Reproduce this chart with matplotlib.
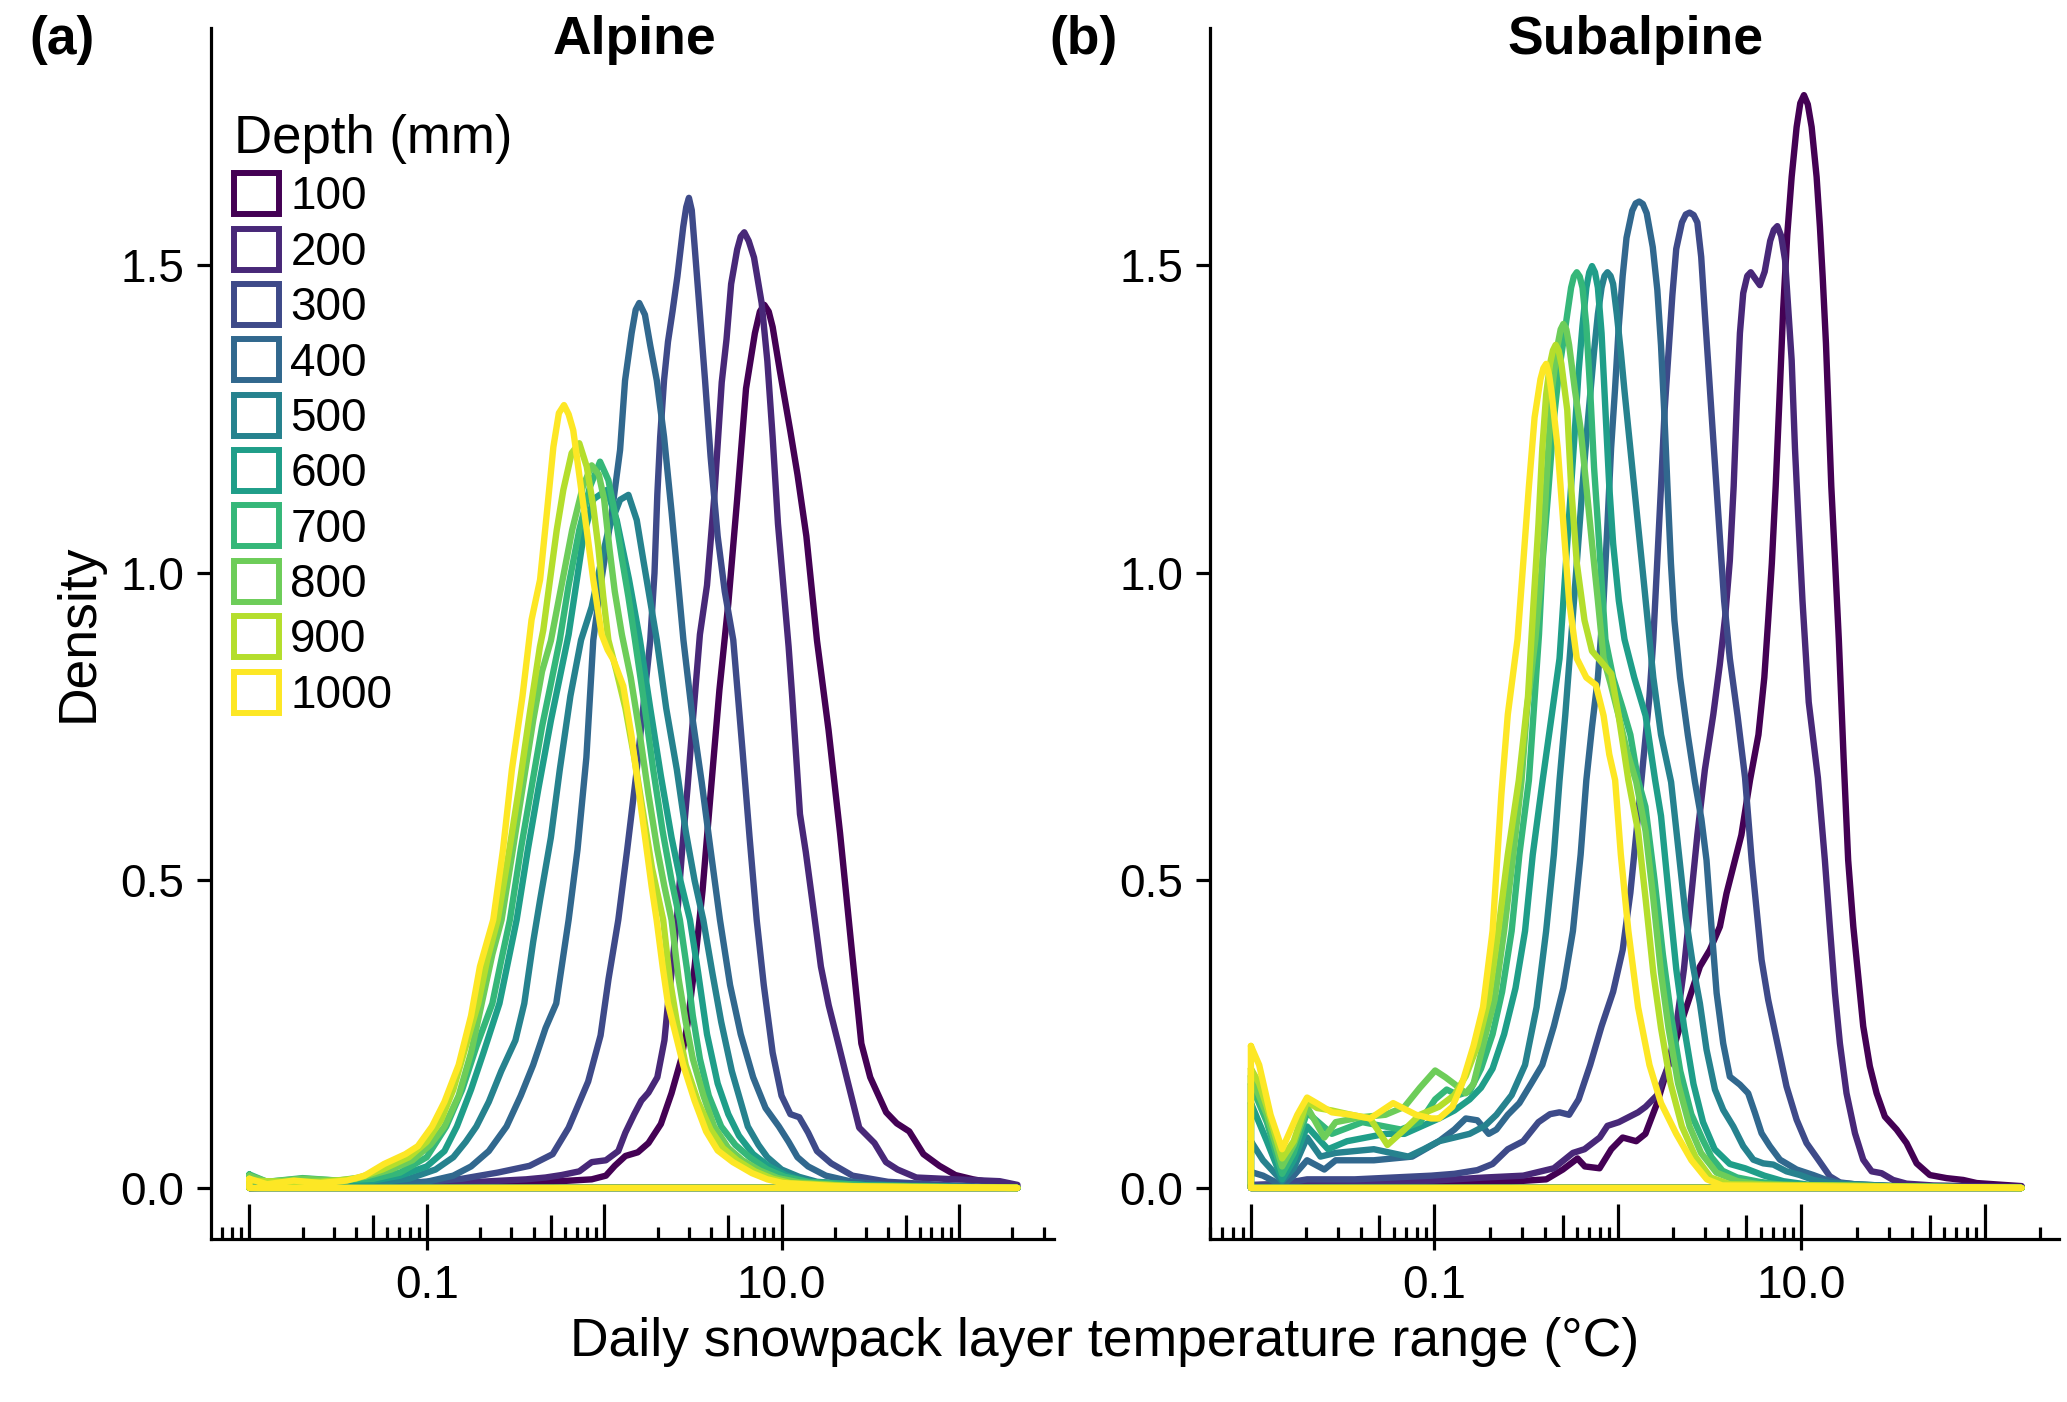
import numpy as np
import matplotlib
matplotlib.use("Agg")
import matplotlib.pyplot as plt
from matplotlib.patches import Patch
from matplotlib.transforms import blended_transform_factory

plt.rcParams['font.family'] = ['Liberation Sans', 'DejaVu Sans']

# depth classes and viridis colours (one per depth)
depths = [100, 200, 300, 400, 500, 600, 700, 800, 900, 1000]
colors = ['#440154', '#482878', '#3E4A89', '#31688E', '#26828E',
          '#1F9E89', '#35B779', '#6DCD59', '#B4DE2C', '#FDE725']

# density curves: (log10 of temperature range, density)
alpine = {
    100: [(-2.0, 0), (-1.0, .003), (-0.6, .005), (-0.25, .011), (-0.07, .014), (0.01, .02), (0.06, .036),
          (0.12, .052), (0.19, .058), (0.25, .073), (0.32, .104), (0.38, .154), (0.435, .21), (0.47, .266),
          (0.51, .36), (0.555, .484), (0.6, .64), (0.65, .81), (0.7, .95), (0.75, 1.12), (0.8, 1.3),
          (0.85, 1.39), (0.878, 1.425), (0.903, 1.436), (0.928, 1.425), (0.95, 1.4), (0.99, 1.33), (1.05, 1.23),
          (1.09, 1.16), (1.14, 1.06),
          (1.2, .89), (1.265, .745), (1.33, .577), (1.395, .39), (1.45, .235), (1.5, .18), (1.59, .123),
          (1.65, .105), (1.72, .092), (1.8, .055), (1.89, .036), (1.98, .021), (2.08, .014), (2.2, .008),
          (2.25, .007), (2.33, 0)],
    200: [(-2.0, 0), (-1.5, .003), (-1.0, .006), (-0.7, .01), (-0.44, .014), (-0.33, .017), (-0.24, .021),
          (-0.14, .027), (-0.07, .042), (0.01, .045), (0.08, .06), (0.12, .09), (0.17, .12), (0.21, .142),
          (0.25, .155), (0.3, .18), (0.34, .24), (0.36, .3), (0.38, .35), (0.41, .436), (0.44, .55),
          (0.47, .65), (0.5, .76), (0.54, .9), (0.58, .98), (0.62, 1.12), (0.663, 1.31), (0.69, 1.38),
          (0.716, 1.47), (0.75, 1.526), (0.77, 1.547), (0.79, 1.554), (0.815, 1.54), (0.845, 1.513),
          (0.888, 1.439), (0.92, 1.345),
          (0.95, 1.221), (0.98, 1.08), (1.04, .88), (1.06, .8), (1.083, .7), (1.104, .608), (1.137, .546),
          (1.18, .453), (1.222, .36), (1.266, .297), (1.32, .235), (1.373, .173), (1.438, .098), (1.524, .073),
          (1.589, .042), (1.654, .03), (1.76, .017), (1.98, .014), (2.23, .011), (2.33, .005)],
    300: [(-2.0, 0), (-1.5, .004), (-1.0, .01), (-0.8, .015), (-0.6, .025), (-0.42, .036), (-0.29, .055),
          (-0.2, .098), (-0.09, .173), (-0.02, .248), (0.025, .34), (0.08, .436), (0.13, .55), (0.18, .67),
          (0.22, .78), (0.26, .89), (0.284, 1.0), (0.3, 1.128), (0.316, 1.221), (0.338, 1.314), (0.36, 1.376),
          (0.386, 1.426), (0.413, 1.482), (0.446, 1.563), (0.463, 1.595), (0.478, 1.61), (0.494, 1.59),
          (0.51, 1.532), (0.535, 1.44),
          (0.569, 1.313), (0.6, 1.19), (0.64, 1.06), (0.68, .97), (0.728, .891), (0.78, .712), (0.82, .57),
          (0.86, .436), (0.9, .33), (0.95, .22), (1.0, .15), (1.05, .12), (1.1, .115), (1.15, .09), (1.2, .06),
          (1.28, .04), (1.4, .02), (1.6, .01), (1.9, .005), (2.33, 0)],
    400: [(-2.0, .003), (-1.5, .004), (-1.2, .006), (-1.0, .01), (-0.85, .02), (-0.75, .035), (-0.65, .06),
          (-0.55, .1), (-0.47, .15), (-0.4, .2), (-0.33, .26), (-0.27, .3), (-0.2, .436), (-0.15, .55),
          (-0.1, .7), (-0.061, .891), (-0.02, .98), (0.043, 1.097), (0.09, 1.2), (0.118, 1.313), (0.155, 1.39),
          (0.178, 1.428), (0.198, 1.439), (0.23, 1.42), (0.26, 1.37), (0.297, 1.313), (0.338, 1.221),
          (0.381, 1.097),
          (0.447, .891), (0.5, .76), (0.55, .66), (0.6, .55), (0.653, .436), (0.71, .33), (0.77, .25),
          (0.84, .18), (0.91, .13), (0.985, .1), (1.04, .075), (1.09, .05), (1.15, .035), (1.25, .02),
          (1.4, .01), (1.6, .005), (2.33, 0)],
    500: [(-2.0, .005), (-1.6, .005), (-1.3, .008), (-1.1, .015), (-0.95, .03), (-0.85, .05), (-0.78, .075),
          (-0.72, .1), (-0.65, .14), (-0.58, .19), (-0.5, .24), (-0.45, .3), (-0.4, .4), (-0.36, .47),
          (-0.3, .57), (-0.25, .68), (-0.19, .8), (-0.13, .891), (-0.07, .945), (-0.023, 1.01), (0.024, 1.07),
          (0.09, 1.119), (0.137, 1.127), (0.184, 1.086), (0.221, 1.021), (0.259, .956), (0.297, .891),
          (0.35, .78), (0.41, .68), (0.46, .58), (0.51, .5), (0.559, .436), (0.61, .35), (0.66, .27),
          (0.72, .19), (0.77, .14), (0.81, .1), (0.87, .07), (0.92, .05), (1.0, .03), (1.1, .018), (1.2, .01),
          (1.5, .004), (2.33, 0)],
    600: [(-2.0, .01), (-1.8, .008), (-1.5, .01), (-1.3, .012), (-1.15, .02), (-1.0, .035), (-0.9, .06),
          (-0.83, .1), (-0.75, .16), (-0.68, .22), (-0.59, .3), (-0.54, .37), (-0.493, .436), (-0.43, .55),
          (-0.37, .65), (-0.3, .76), (-0.25, .83), (-0.2, .9), (-0.117, 1.059), (-0.06, 1.12), (0.015, 1.135),
          (0.071, 1.086), (0.14, .99), (0.202, .891), (0.26, .78), (0.32, .67), (0.38, .57), (0.43, .5),
          (0.484, .436), (0.53, .35), (0.58, .25), (0.64, .17), (0.7, .12), (0.76, .085), (0.84, .055),
          (0.93, .035), (1.03, .02), (1.15, .01), (1.5, .004), (2.33, 0)],
    700: [(-2.0, .022), (-1.9, .01), (-1.7, .016), (-1.5, .012), (-1.3, .015), (-1.15, .025), (-1.0, .05),
          (-0.89, .1), (-0.8, .16), (-0.72, .23), (-0.63, .3), (-0.58, .37), (-0.531, .436), (-0.47, .55),
          (-0.41, .65), (-0.35, .75), (-0.3, .82), (-0.25, .891), (-0.2, .98), (-0.14, 1.07), (-0.08, 1.14),
          (-0.023, 1.181), (0.024, 1.151), (0.061, 1.097), (0.099, 1.026), (0.137, .961), (0.174, .891),
          (0.22, .8), (0.277, .68), (0.33, .58), (0.38, .5), (0.427, .436), (0.47, .35), (0.5, .28),
          (0.54, .21), (0.59, .15), (0.66, .1), (0.74, .07), (0.82, .05), (0.92, .03), (1.02, .018),
          (1.15, .01), (1.5, .004), (2.33, 0)],
    800: [(-2.0, .02), (-1.9, .01), (-1.7, .015), (-1.5, .012), (-1.35, .018), (-1.2, .03), (-1.08, .045),
          (-0.98, .07), (-0.9, .1), (-0.82, .15), (-0.75, .22), (-0.69, .3), (-0.63, .38), (-0.578, .436),
          (-0.52, .54), (-0.46, .65), (-0.4, .76), (-0.35, .84), (-0.3, .89), (-0.24, .98), (-0.18, 1.07),
          (-0.12, 1.14), (-0.07, 1.175), (-0.03, 1.16), (0.0, 1.12), (0.03, 1.04), (0.06, .97), (0.1, .9),
          (0.15, .83), (0.2, .74), (0.25, .64), (0.3, .55), (0.34, .49), (0.38, .436), (0.42, .34),
          (0.46, .27), (0.5, .21), (0.56, .15), (0.62, .1), (0.7, .065), (0.78, .045), (0.88, .028),
          (0.98, .016), (1.1, .009), (1.4, .003), (2.33, 0)],
    900: [(-2.0, .012), (-1.8, .01), (-1.6, .01), (-1.4, .015), (-1.25, .03), (-1.1, .05), (-1.0, .075),
          (-0.92, .11), (-0.85, .16), (-0.77, .24), (-0.71, .3), (-0.66, .37), (-0.6, .436), (-0.54, .54),
          (-0.48, .65), (-0.42, .77), (-0.362, .88), (-0.343, .907), (-0.305, .989), (-0.267, 1.07),
          (-0.23, 1.135), (-0.183, 1.195), (-0.14, 1.211), (-0.098, 1.173), (-0.061, 1.108), (-0.033, 1.043),
          (-0.005, .962), (0.024, .891), (0.07, .84), (0.12, .78), (0.17, .7), (0.22, .61), (0.27, .52),
          (0.333, .436), (0.37, .34), (0.41, .27), (0.46, .2), (0.53, .14), (0.6, .095), (0.67, .065),
          (0.75, .045), (0.85, .027), (0.95, .015), (1.05, .008), (1.4, .003), (2.33, 0)],
    1000: [(-2.0, .015), (-1.9, .006), (-1.75, .012), (-1.6, .008), (-1.45, .012), (-1.35, .02), (-1.24, .039),
           (-1.12, .055), (-1.05, .068), (-0.97, .1), (-0.9, .14), (-0.82, .2), (-0.75, .28), (-0.7, .36),
           (-0.625, .436), (-0.57, .55), (-0.52, .68), (-0.46, .8), (-0.409, .924), (-0.361, .989),
           (-0.323, 1.097), (-0.286, 1.205), (-0.255, 1.26), (-0.226, 1.273), (-0.2, 1.258), (-0.174, 1.232),
           (-0.136, 1.151), (-0.098, 1.07), (-0.061, .989), (-0.014, .9), (0.02, .875), (0.052, .859),
           (0.108, .816), (0.155, .734), (0.192, .653), (0.23, .572), (0.268, .49), (0.296, .436), (0.33, .36),
           (0.36, .3), (0.403, .25), (0.446, .2), (0.51, .142), (0.575, .092), (0.64, .061), (0.726, .042),
           (0.834, .024), (0.92, .014), (1.007, .008), (1.3, .003), (1.8, .001), (2.33, 0)],
}

subalpine = {
    100: [(-2.0, .004), (-1.5, .004), (-1.0, .006), (-0.6, .01), (-0.39, .014), (-0.3, .03), (-0.22, .048),
          (-0.18, .035), (-0.1, .032), (-0.036, .063), (0.026, .082), (0.1, .076), (0.15, .088), (0.214, .138),
          (0.276, .2), (0.339, .263), (0.401, .319), (0.447, .36), (0.501, .387), (0.556, .425), (0.592, .479),
          (0.638, .533), (0.673, .574), (0.72, .663), (0.766, .737), (0.798, .83), (0.819, .923), (0.839, 1.016),
          (0.86, 1.141), (0.88, 1.28), (0.901, 1.43), (0.923, 1.55), (0.947, 1.644), (0.974, 1.725),
          (0.994, 1.764), (1.014, 1.777), (1.035, 1.762), (1.056, 1.725), (1.083, 1.644), (1.101, 1.563),
          (1.116, 1.482), (1.134, 1.373),
          (1.163, 1.141), (1.184, 1.016), (1.204, .892), (1.23, .7), (1.255, .533), (1.283, .425), (1.31, .344),
          (1.337, .263), (1.373, .198), (1.41, .154), (1.455, .116), (1.519, .095), (1.573, .073), (1.628, .04),
          (1.7, .021), (1.791, .016), (1.882, .013), (1.955, .008), (2.1, .005), (2.2, .003)],
    200: [(-2.0, .005), (-1.5, .008), (-1.0, .012), (-0.725, .017), (-0.516, .02), (-0.349, .032),
          (-0.245, .057), (-0.182, .063), (-0.099, .082), (-0.057, .101), (0.005, .107), (0.11, .123),
          (0.151, .132), (0.214, .151), (0.276, .2), (0.318, .263), (0.36, .356), (0.391, .449), (0.433, .574),
          (0.474, .68), (0.52, .77), (0.555, .85), (0.585, .93), (0.61, 1.02), (0.631, 1.141), (0.65, 1.29),
          (0.665, 1.39), (0.683, 1.455), (0.705, 1.483), (0.724, 1.489), (0.75, 1.478), (0.774, 1.468),
          (0.8, 1.49), (0.83, 1.54), (0.85, 1.558), (0.869, 1.564), (0.89, 1.548), (0.911, 1.509),
          (0.929, 1.427), (0.947, 1.346),
          (0.965, 1.203), (0.985, 1.079), (1.006, .955), (1.04, .79), (1.09, .667), (1.128, .533), (1.155, .425),
          (1.183, .317), (1.21, .235), (1.246, .154), (1.292, .089), (1.337, .046), (1.383, .027), (1.437, .024),
          (1.5, .013), (1.573, .007), (1.72, .004), (2.2, .002)],
    300: [(-2.0, .004), (-1.83, .007), (-1.694, .014), (-1.434, .014), (-1.225, .017), (-1.017, .02),
          (-0.891, .023), (-0.766, .029), (-0.683, .039), (-0.6, .063), (-0.516, .076), (-0.433, .107),
          (-0.37, .12), (-0.318, .123), (-0.266, .119), (-0.214, .144), (-0.151, .2), (-0.089, .263),
          (-0.026, .319), (0.026, .387), (0.068, .48), (0.11, .605), (0.14, .7), (0.172, .799), (0.193, .892),
          (0.214, 1.016), (0.235, 1.141), (0.255, 1.266), (0.276, 1.359), (0.297, 1.452), (0.318, 1.527),
          (0.349, 1.57), (0.37, 1.583), (0.391, 1.586), (0.413, 1.582), (0.433, 1.57), (0.454, 1.514),
          (0.474, 1.421), (0.495, 1.328),
          (0.516, 1.234), (0.537, 1.141), (0.558, 1.048), (0.579, .955), (0.61, .861), (0.652, .768),
          (0.693, .667), (0.729, .533), (0.756, .452), (0.783, .371), (0.819, .306), (0.865, .241),
          (0.919, .165), (0.974, .111), (1.028, .073), (1.092, .046), (1.155, .019), (1.21, .009),
          (1.319, .005), (1.6, .002), (2.2, 0)],
    400: [(-2.0, .026), (-1.934, .02), (-1.83, .004), (-1.767, .02), (-1.694, .045), (-1.6, .03),
          (-1.538, .045), (-1.33, .045), (-1.121, .051), (-0.975, .076), (-0.891, .095), (-0.829, .113),
          (-0.766, .11), (-0.704, .088), (-0.662, .095), (-0.6, .119), (-0.537, .138), (-0.474, .169),
          (-0.412, .2), (-0.349, .263), (-0.297, .325), (-0.245, .418), (-0.203, .542), (-0.172, .663),
          (-0.141, .75), (-0.109, .83), (-0.078, .955), (-0.057, 1.079), (-0.037, 1.203), (-0.016, 1.297),
          (0.005, 1.402), (0.026, 1.483), (0.047, 1.545), (0.078, 1.589), (0.097, 1.601), (0.116, 1.604),
          (0.136, 1.6), (0.157, 1.585),
          (0.19, 1.53), (0.215, 1.46), (0.235, 1.37), (0.252, 1.266), (0.27, 1.141), (0.289, 1.016),
          (0.308, .923), (0.339, .83), (0.381, .737), (0.42, .66), (0.455, .6), (0.483, .533), (0.51, .425),
          (0.538, .317), (0.574, .235), (0.61, .181), (0.665, .168), (0.71, .154), (0.747, .122), (0.783, .089),
          (0.828, .068), (0.883, .046), (0.974, .03), (1.065, .021), (1.137, .013), (1.228, .007), (1.5, .003),
          (2.2, 0)],
    500: [(-2.0, .076), (-1.934, .045), (-1.83, .011), (-1.767, .032), (-1.694, .082), (-1.621, .051),
          (-1.538, .057), (-1.434, .06), (-1.33, .063), (-1.142, .051), (-1.058, .063), (-0.975, .076),
          (-0.891, .082), (-0.808, .088), (-0.725, .101), (-0.662, .119), (-0.579, .151), (-0.506, .2),
          (-0.443, .294), (-0.391, .418), (-0.349, .542), (-0.318, .663), (-0.287, .768), (-0.255, .892),
          (-0.224, 1.016), (-0.193, 1.141), (-0.162, 1.253), (-0.13, 1.36), (-0.109, 1.421), (-0.089, 1.464),
          (-0.073, 1.483), (-0.057, 1.489), (-0.04, 1.483), (-0.026, 1.47), (-0.006, 1.421), (0.016, 1.359),
          (0.036, 1.296), (0.057, 1.234),
          (0.078, 1.172), (0.099, 1.11), (0.12, 1.048), (0.141, .986), (0.162, .923), (0.193, .83),
          (0.235, .737), (0.29, .66), (0.33, .55), (0.37, .44), (0.41, .36), (0.447, .3), (0.483, .225),
          (0.529, .16), (0.574, .127), (0.629, .1), (0.683, .068), (0.738, .046), (0.792, .04), (0.847, .038),
          (0.919, .027), (0.992, .021), (1.065, .013), (1.155, .008), (1.5, .003), (2.2, 0)],
    600: [(-2.0, .138), (-1.913, .076), (-1.83, .014), (-1.767, .045), (-1.694, .1), (-1.58, .063),
          (-1.476, .076), (-1.267, .088), (-1.163, .088), (-0.975, .113), (-0.891, .126), (-0.808, .144),
          (-0.746, .163), (-0.683, .194), (-0.62, .25), (-0.558, .325), (-0.506, .418), (-0.464, .542),
          (-0.41, .663), (-0.36, .77), (-0.318, .861), (-0.297, .955), (-0.276, 1.048), (-0.255, 1.141),
          (-0.234, 1.234), (-0.214, 1.328), (-0.193, 1.402), (-0.172, 1.464), (-0.156, 1.489), (-0.141, 1.499),
          (-0.125, 1.489), (-0.109, 1.464),
          (-0.089, 1.39), (-0.068, 1.265), (-0.047, 1.141), (-0.026, 1.048), (0.005, .955), (0.036, .892),
          (0.089, .83), (0.151, .768), (0.203, .663), (0.235, .605), (0.276, .48), (0.318, .356), (0.36, .263),
          (0.412, .169), (0.464, .107), (0.527, .063), (0.61, .039), (0.693, .032), (0.798, .02), (0.902, .011),
          (1.069, .004), (2.2, 0)],
    700: [(-2.0, .169), (-1.913, .107), (-1.83, .023), (-1.767, .057), (-1.694, .123), (-1.559, .088),
          (-1.392, .107), (-1.288, .101), (-1.183, .095), (-1.079, .107), (-0.996, .144), (-0.933, .16),
          (-0.871, .151), (-0.808, .157), (-0.746, .194), (-0.683, .25), (-0.631, .319), (-0.579, .418),
          (-0.537, .542), (-0.485, .663), (-0.455, .791), (-0.43, .9), (-0.41, 1.02), (-0.38, 1.13),
          (-0.349, 1.25), (-0.32, 1.33), (-0.297, 1.377), (-0.276, 1.421), (-0.255, 1.464), (-0.24, 1.482),
          (-0.224, 1.489), (-0.208, 1.482), (-0.193, 1.464), (-0.172, 1.402), (-0.151, 1.297), (-0.13, 1.172),
          (-0.109, 1.079), (-0.089, .986),
          (-0.068, .892), (-0.026, .83), (0.026, .78), (0.068, .737), (0.11, .663), (0.15, .62), (0.2, .5),
          (0.245, .38), (0.29, .28), (0.34, .19), (0.4, .12), (0.46, .08), (0.51, .05), (0.57, .028),
          (0.65, .017), (0.77, .01), (0.9, .005), (2.2, 0)],
    800: [(-2.0, .182), (-1.913, .119), (-1.83, .035), (-1.767, .07), (-1.694, .132), (-1.6, .082),
          (-1.538, .107), (-1.4, .115), (-1.267, .119), (-1.163, .132), (-1.079, .163), (-0.996, .191),
          (-0.94, .18), (-0.891, .169), (-0.829, .154), (-0.787, .169), (-0.725, .244), (-0.672, .306),
          (-0.62, .418), (-0.57, .542), (-0.525, .663), (-0.495, .78), (-0.45, .892), (-0.412, 1.016),
          (-0.391, 1.141), (-0.36, 1.297), (-0.328, 1.371), (-0.312, 1.396), (-0.297, 1.405), (-0.281, 1.396),
          (-0.266, 1.371), (-0.234, 1.297),
          (-0.203, 1.234), (-0.172, 1.141), (-0.141, 1.048), (-0.109, .955), (-0.078, .861), (-0.04, .82),
          (0.004, .768), (0.05, .71), (0.1, .66), (0.151, .58), (0.193, .47), (0.235, .35), (0.276, .26),
          (0.328, .17), (0.391, .1), (0.453, .057), (0.537, .025), (0.652, .011), (0.8, .005), (2.2, 0)],
    900: [(-2.0, .194), (-1.955, .17), (-1.913, .132), (-1.83, .048), (-1.767, .076), (-1.694, .141),
          (-1.64, .13), (-1.559, .126), (-1.455, .119), (-1.35, .113), (-1.256, .07), (-1.163, .095),
          (-1.079, .119), (-0.975, .132), (-0.891, .151), (-0.829, .182), (-0.766, .231), (-0.704, .306),
          (-0.652, .418), (-0.6, .542), (-0.54, .663), (-0.49, .799), (-0.46, .95), (-0.433, 1.079),
          (-0.412, 1.203), (-0.391, 1.29), (-0.37, 1.34), (-0.354, 1.362), (-0.339, 1.371), (-0.323, 1.362),
          (-0.308, 1.34), (-0.276, 1.265),
          (-0.255, 1.141), (-0.224, 1.016), (-0.182, .923), (-0.141, .873), (-0.089, .855), (-0.036, .836),
          (0.004, .768), (0.036, .705), (0.057, .663), (0.11, .58), (0.151, .47), (0.193, .35), (0.235, .26),
          (0.287, .17), (0.349, .1), (0.422, .051), (0.506, .017), (0.61, .006), (2.2, 0)],
    1000: [(-2.0, .231), (-1.955, .2), (-1.893, .119), (-1.83, .063), (-1.747, .119), (-1.694, .147),
           (-1.642, .138), (-1.559, .123), (-1.455, .119), (-1.35, .113), (-1.225, .138), (-1.1, .119),
           (-1.017, .113), (-0.975, .113), (-0.902, .132), (-0.85, .169), (-0.787, .231), (-0.735, .294),
           (-0.683, .418), (-0.635, .64), (-0.6, .77), (-0.547, .892), (-0.516, 1.016), (-0.485, 1.141),
           (-0.454, 1.253), (-0.422, 1.315), (-0.406, 1.333), (-0.391, 1.34), (-0.375, 1.322), (-0.36, 1.29),
           (-0.328, 1.203), (-0.297, 1.079),
           (-0.266, .955), (-0.224, .861), (-0.172, .83), (-0.12, .818), (-0.078, .768), (-0.047, .705),
           (-0.015, .663), (0.016, .542), (0.057, .418), (0.11, .294), (0.172, .2), (0.235, .138),
           (0.318, .088), (0.401, .045), (0.485, .014), (0.568, .004), (2.2, 0)],
}

panel_titles = ['Alpine', 'Subalpine']
panel_tags = ['(a)', '(b)']
xlims_log = [(-2.216, 2.536), (-2.223, 2.404)]
ylim = (-0.083, 1.887)
yticks = [0.0, 0.5, 1.0, 1.5]
xticks = [0.1, 10.0]

W, H = 2067, 1402
fig = plt.figure(figsize=(W / 100, H / 100), dpi=100)
ax_boxes = [(211, 1054), (1210, 2059)]
top_px, bot_px = 27.5, 1239

axes = []
for (x0, x1) in ax_boxes:
    ax = fig.add_axes([x0 / W, 1 - bot_px / H, (x1 - x0) / W, (bot_px - top_px) / H])
    axes.append(ax)

for ax, curves, xl in zip(axes, [alpine, subalpine], xlims_log):
    for d, c in zip(depths, colors):
        pts = curves[d]
        lx = [p[0] for p in pts]
        dens = [p[1] for p in pts]
        # closed outline like ggplot's density polygon
        lx = lx + [lx[-1], lx[0], lx[0]]
        dens = dens + [0, 0, dens[0]]
        ax.plot(np.power(10.0, lx), dens, color=c, lw=4.6,
                solid_joinstyle='round', solid_capstyle='round')
    ax.set_xscale('log')
    ax.set_xlim(10 ** xl[0], 10 ** xl[1])
    ax.set_ylim(*ylim)
    for s in ['top', 'right']:
        ax.spines[s].set_visible(False)
    for s in ['left', 'bottom']:
        ax.spines[s].set_linewidth(2.3)
    ax.set_yticks(yticks)
    ax.set_yticklabels([f"{v:.1f}" for v in yticks])
    ax.set_xticks(xticks)
    ax.set_xticklabels(["0.1", "10.0"])
    ax.xaxis.set_minor_locator(matplotlib.ticker.NullLocator())
    ax.tick_params(axis='y', length=10, width=2.3, pad=9, labelsize=33, colors='black')
    ax.tick_params(axis='x', length=8, width=2.3, pad=10, labelsize=33, colors='black')
    # log ticks along the bottom (annotation_logticks style)
    tr = blended_transform_factory(ax.transData, ax.transAxes)
    ah = bot_px - top_px
    for k in range(-3, 3):
        for m in range(1, 10):
            v = m * 10.0 ** k
            if 10 ** xl[0] < v < 10 ** xl[1]:
                L = 35 if m == 1 else (23.6 if m == 5 else 11.8)
                ax.plot([v, v], [0, L / ah], transform=tr, color='black', lw=2.3,
                        solid_capstyle='butt', clip_on=False)

# panel titles and tags
fig.text(635 / W, 1 - 54 / H, panel_titles[0], ha='center', va='baseline', fontsize=38.5, fontweight='bold')
fig.text(1636 / W, 1 - 54 / H, panel_titles[1], ha='center', va='baseline', fontsize=38.5, fontweight='bold')
fig.text(29 / W, 1 - 54 / H, panel_tags[0], ha='left', va='baseline', fontsize=38.5, fontweight='bold')
fig.text(1049 / W, 1 - 54 / H, panel_tags[1], ha='left', va='baseline', fontsize=38.5, fontweight='bold')

fig.text(79 / W, 1 - 633 / H, 'Density', rotation=90, ha='center', va='center', fontsize=38.5)
fig.text(1105 / W, 1 - 1356 / H, 'Daily snowpack layer temperature range (°C)',
         ha='center', va='baseline', fontsize=38.5)

handles = [Patch(facecolor='none', edgecolor=c, linewidth=4.3) for c in colors]
leg = axes[0].legend(handles, [str(d) for d in depths], loc='upper left',
                     bbox_to_anchor=(234 / W, 1 - 114 / H), bbox_transform=fig.transFigure,
                     frameon=False, title='Depth (mm)', title_fontsize=38, fontsize=33,
                     handlelength=0.98, handleheight=1.0, handletextpad=0.25,
                     labelspacing=0.2, borderpad=0, borderaxespad=0, alignment='left')

fig.savefig('out.png', dpi=100)
